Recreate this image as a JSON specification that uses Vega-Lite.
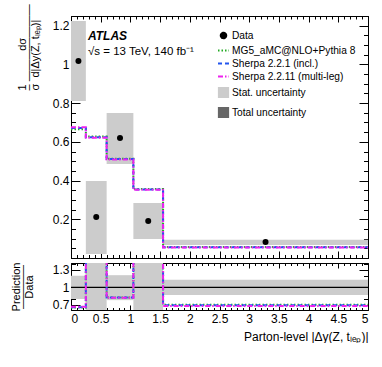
{
  "$schema": "https://vega.github.io/schema/vega-lite/v6.json",
  "padding": {"left": 9, "top": 3, "right": 0, "bottom": 0},
  "spacing": 2,
  "datasets": {
    "bins": [
      {"lo": 0, "hi": 0.25, "xc": 0.125, "data": 1.018, "slo": 0.811, "shi": 1.224, "rlo": 0.80, "rhi": 1.20},
      {"lo": 0.25, "hi": 0.6, "xc": 0.425, "data": 0.212, "slo": 0.021, "shi": 0.398, "rlo": 0.10, "rhi": 1.90},
      {"lo": 0.6, "hi": 1.05, "xc": 0.825, "data": 0.62, "slo": 0.486, "shi": 0.749, "rlo": 0.78, "rhi": 1.21},
      {"lo": 1.05, "hi": 1.55, "xc": 1.3, "data": 0.191, "slo": 0.098, "shi": 0.284, "rlo": 0.51, "rhi": 1.49},
      {"lo": 1.55, "hi": 5, "xc": 3.275, "data": 0.083, "slo": 0.067, "shi": 0.094, "rlo": 0.87, "rhi": 1.13}
    ],
    "unity": [{"ref": 1}],
    "pred": [
      {"x": 0, "v": 0.665, "series": "MG5_aMC@NLO+Pythia 8"},
      {"x": 0.25, "v": 0.627, "series": "MG5_aMC@NLO+Pythia 8"},
      {"x": 0.6, "v": 0.513, "series": "MG5_aMC@NLO+Pythia 8"},
      {"x": 1.05, "v": 0.357, "series": "MG5_aMC@NLO+Pythia 8"},
      {"x": 1.55, "v": 0.057, "series": "MG5_aMC@NLO+Pythia 8"},
      {"x": 5, "v": 0.057, "series": "MG5_aMC@NLO+Pythia 8"},
      {"x": 0, "v": 0.671, "series": "Sherpa 2.2.1 (incl.)"},
      {"x": 0.25, "v": 0.624, "series": "Sherpa 2.2.1 (incl.)"},
      {"x": 0.6, "v": 0.511, "series": "Sherpa 2.2.1 (incl.)"},
      {"x": 1.05, "v": 0.354, "series": "Sherpa 2.2.1 (incl.)"},
      {"x": 1.55, "v": 0.055, "series": "Sherpa 2.2.1 (incl.)"},
      {"x": 5, "v": 0.055, "series": "Sherpa 2.2.1 (incl.)"},
      {"x": 0, "v": 0.676, "series": "Sherpa 2.2.11 (multi-leg)"},
      {"x": 0.25, "v": 0.621, "series": "Sherpa 2.2.11 (multi-leg)"},
      {"x": 0.6, "v": 0.509, "series": "Sherpa 2.2.11 (multi-leg)"},
      {"x": 1.05, "v": 0.352, "series": "Sherpa 2.2.11 (multi-leg)"},
      {"x": 1.55, "v": 0.054, "series": "Sherpa 2.2.11 (multi-leg)"},
      {"x": 5, "v": 0.054, "series": "Sherpa 2.2.11 (multi-leg)"}
    ],
    "ratio": [
      {"x": 0, "r": 0.653, "series": "MG5_aMC@NLO+Pythia 8"},
      {"x": 0.25, "r": 2.96, "series": "MG5_aMC@NLO+Pythia 8"},
      {"x": 0.6, "r": 0.827, "series": "MG5_aMC@NLO+Pythia 8"},
      {"x": 1.05, "r": 1.87, "series": "MG5_aMC@NLO+Pythia 8"},
      {"x": 1.55, "r": 0.70, "series": "MG5_aMC@NLO+Pythia 8"},
      {"x": 5, "r": 0.70, "series": "MG5_aMC@NLO+Pythia 8"},
      {"x": 0, "r": 0.659, "series": "Sherpa 2.2.1 (incl.)"},
      {"x": 0.25, "r": 2.94, "series": "Sherpa 2.2.1 (incl.)"},
      {"x": 0.6, "r": 0.824, "series": "Sherpa 2.2.1 (incl.)"},
      {"x": 1.05, "r": 1.85, "series": "Sherpa 2.2.1 (incl.)"},
      {"x": 1.55, "r": 0.69, "series": "Sherpa 2.2.1 (incl.)"},
      {"x": 5, "r": 0.69, "series": "Sherpa 2.2.1 (incl.)"},
      {"x": 0, "r": 0.664, "series": "Sherpa 2.2.11 (multi-leg)"},
      {"x": 0.25, "r": 2.93, "series": "Sherpa 2.2.11 (multi-leg)"},
      {"x": 0.6, "r": 0.821, "series": "Sherpa 2.2.11 (multi-leg)"},
      {"x": 1.05, "r": 1.84, "series": "Sherpa 2.2.11 (multi-leg)"},
      {"x": 1.55, "r": 0.68, "series": "Sherpa 2.2.11 (multi-leg)"},
      {"x": 5, "r": 0.68, "series": "Sherpa 2.2.11 (multi-leg)"}
    ]
  },
  "vconcat": [
    {
      "width": 297,
      "height": 242,
      "title": {
        "text": "ATLAS",
        "subtitle": "√s = 13 TeV, 140 fb⁻¹",
        "anchor": "start",
        "frame": "group",
        "orient": "top",
        "offset": -55,
        "dx": 17,
        "font": "Liberation Sans",
        "fontSize": 12,
        "fontStyle": "italic",
        "fontWeight": "bold",
        "color": "black",
        "subtitleFont": "Liberation Sans",
        "subtitleFontSize": 11.5,
        "subtitleColor": "black",
        "subtitlePadding": 3
      },
      "resolve": {"axis": {"x": "independent", "y": "independent"}},
      "layer": [
        {
          "data": {"name": "bins"},
          "mark": {"type": "rect"},
          "encoding": {
            "x": {"field": "lo", "type": "quantitative", "scale": {"domain": [0, 5], "nice": false, "zero": false},
              "axis": {"orient": "bottom", "values": [0, 0.5, 1, 1.5, 2, 2.5, 3, 3.5, 4, 4.5, 5], "tickSize": -7, "labels": false, "title": null}},
            "x2": {"field": "hi"},
            "y": {"field": "slo", "type": "quantitative", "scale": {"domain": [0, 1.25], "nice": false, "zero": false},
              "axis": {"orient": "left", "values": [0.2, 0.4, 0.6, 0.8, 1, 1.2], "tickSize": -9, "labelPadding": 11, "format": "~g",
                "title": ["1\u00a0\u00a0\u00a0\u00a0\u00a0\u00a0\u00a0\u00a0\u00a0\u00a0\u00a0dσ", "–\u00a0———————", "σ\u00a0\u00a0d|Δy(Z,\u00a0tₗₑₚ)|"],
                "titleAlign": "left", "titleY": 74, "titleLineHeight": 6.5, "titleFontSize": 11, "titleFontWeight": "normal", "titlePadding": 12}},
            "y2": {"field": "shi"},
            "color": {"datum": "Stat. uncertainty", "type": "nominal", "title": null,
              "scale": {"domain": ["Data", "MG5_aMC@NLO+Pythia 8", "Sherpa 2.2.1 (incl.)", "Sherpa 2.2.11 (multi-leg)", "Stat. uncertainty", "Total uncertainty"],
                "range": ["black", "#22aa22", "#2255ee", "#ee22ee", "#cccccc", "#666666"]},
              "legend": {
                "orient": "none", "legendX": 146, "legendY": 13, "title": null, "padding": 0,
                "labelFont": "Liberation Sans", "labelFontSize": 10.2, "labelColor": "black", "labelOffset": 2, "labelLimit": 300,
                "rowPadding": 1, "symbolSize": 121, "symbolStrokeWidth": 2,
                "encode": {"symbols": {"update": {
                  "fill": {"signal": "datum.value === 'Data' ? 'black' : datum.value === 'Stat. uncertainty' ? '#cccccc' : datum.value === 'Total uncertainty' ? '#666666' : 'transparent'"},
                  "stroke": {"signal": "datum.value === 'MG5_aMC@NLO+Pythia 8' ? '#22aa22' : datum.value === 'Sherpa 2.2.1 (incl.)' ? '#2255ee' : datum.value === 'Sherpa 2.2.11 (multi-leg)' ? '#ee22ee' : 'transparent'"},
                  "shape": {"signal": "datum.value === 'Data' ? 'circle' : (datum.value === 'Stat. uncertainty' || datum.value === 'Total uncertainty') ? 'square' : 'stroke'"},
                  "size": {"signal": "datum.value === 'Data' ? 30 : (datum.value === 'Stat. uncertainty' || datum.value === 'Total uncertainty') ? 85 : 121"},
                  "strokeDash": {"signal": "datum.value === 'MG5_aMC@NLO+Pythia 8' ? [1.5, 2] : datum.value === 'Sherpa 2.2.1 (incl.)' ? [4, 3] : datum.value === 'Sherpa 2.2.11 (multi-leg)' ? [5, 2, 1.5, 2] : [1, 0]"},
                  "opacity": {"value": 1}
                }}}
              }
            }
          }
        },
        {
          "data": {"name": "pred"},
          "transform": [{"filter": "datum.series === 'MG5_aMC@NLO+Pythia 8'"}],
          "mark": {"type": "line", "interpolate": "step-after", "strokeWidth": 2, "clip": true, "strokeDash": [1.5, 2]},
          "encoding": {
            "x": {"field": "x", "type": "quantitative",
              "axis": {"orient": "bottom", "values": [0,0.1,0.2,0.3,0.4,0.5,0.6,0.7,0.8,0.9,1,1.1,1.2,1.3,1.4,1.5,1.6,1.7,1.8,1.9,2,2.1,2.2,2.3,2.4,2.5,2.6,2.7,2.8,2.9,3,3.1,3.2,3.3,3.4,3.5,3.6,3.7,3.8,3.9,4,4.1,4.2,4.3,4.4,4.5,4.6,4.7,4.8,4.9,5], "tickSize": -3.5, "labels": false, "title": null}},
            "y": {"field": "v", "type": "quantitative",
              "axis": {"orient": "left", "values": [0,0.05,0.1,0.15,0.2,0.25,0.3,0.35,0.4,0.45,0.5,0.55,0.6,0.65,0.7,0.75,0.8,0.85,0.9,0.95,1,1.05,1.1,1.15,1.2,1.25], "tickSize": -4.5, "labels": false, "title": null}},
            "color": {"field": "series", "type": "nominal", "title": null}
          }
        },
        {
          "data": {"name": "pred"},
          "transform": [{"filter": "datum.series === 'Sherpa 2.2.1 (incl.)'"}],
          "mark": {"type": "line", "interpolate": "step-after", "strokeWidth": 2, "clip": true, "strokeDash": [4, 3]},
          "encoding": {
            "x": {"field": "x", "type": "quantitative",
              "axis": {"orient": "top", "values": [0, 0.5, 1, 1.5, 2, 2.5, 3, 3.5, 4, 4.5, 5], "tickSize": -6, "labels": false, "title": null}},
            "y": {"field": "v", "type": "quantitative",
              "axis": {"orient": "right", "values": [0.2, 0.4, 0.6, 0.8, 1, 1.2], "tickSize": -9, "labels": false, "title": null}},
            "color": {"field": "series", "type": "nominal", "title": null}
          }
        },
        {
          "data": {"name": "pred"},
          "transform": [{"filter": "datum.series === 'Sherpa 2.2.11 (multi-leg)'"}],
          "mark": {"type": "line", "interpolate": "step-after", "strokeWidth": 2, "clip": true, "strokeDash": [5, 2, 1.5, 2]},
          "encoding": {
            "x": {"field": "x", "type": "quantitative",
              "axis": {"orient": "top", "values": [0,0.1,0.2,0.3,0.4,0.5,0.6,0.7,0.8,0.9,1,1.1,1.2,1.3,1.4,1.5,1.6,1.7,1.8,1.9,2,2.1,2.2,2.3,2.4,2.5,2.6,2.7,2.8,2.9,3,3.1,3.2,3.3,3.4,3.5,3.6,3.7,3.8,3.9,4,4.1,4.2,4.3,4.4,4.5,4.6,4.7,4.8,4.9,5], "tickSize": -3, "labels": false, "title": null}},
            "y": {"field": "v", "type": "quantitative",
              "axis": {"orient": "right", "values": [0,0.05,0.1,0.15,0.2,0.25,0.3,0.35,0.4,0.45,0.5,0.55,0.6,0.65,0.7,0.75,0.8,0.85,0.9,0.95,1,1.05,1.1,1.15,1.2,1.25], "tickSize": -4.5, "labels": false, "title": null}},
            "color": {"field": "series", "type": "nominal", "title": null}
          }
        },
        {
          "data": {"name": "bins"},
          "mark": {"type": "point", "filled": true, "opacity": 1, "size": 36, "shape": "circle"},
          "encoding": {
            "x": {"field": "xc", "type": "quantitative", "axis": null},
            "y": {"field": "data", "type": "quantitative", "axis": null},
            "color": {"datum": "Data", "type": "nominal", "title": null}
          }
        }
      ]
    },
    {
      "width": 297,
      "height": 47,
      "resolve": {"axis": {"x": "independent", "y": "independent"}},
      "layer": [
        {
          "data": {"name": "bins"},
          "mark": {"type": "rect", "color": "#cccccc", "clip": true},
          "encoding": {
            "x": {"field": "lo", "type": "quantitative", "scale": {"domain": [0, 5], "nice": false, "zero": false},
              "axis": {"orient": "bottom", "values": [0, 0.5, 1, 1.5, 2, 2.5, 3, 3.5, 4, 4.5, 5], "tickSize": -5, "labelPadding": 8, "format": "~g",
                "title": "Parton-level |Δy(Z, tₗₑₚ)|", "titleAnchor": "end", "titleFontSize": 12, "titleFontWeight": "normal", "titlePadding": 7}},
            "x2": {"field": "hi"},
            "y": {"field": "rlo", "type": "quantitative", "scale": {"domain": [0.61, 1.42], "nice": false, "zero": false},
              "axis": {"orient": "left", "values": [0.7, 1, 1.3], "tickSize": -9, "labelPadding": 11, "format": "~g",
                "title": ["Prediction", "————", "Data"], "titleLineHeight": 6.5, "titleFontSize": 11, "titleFontWeight": "normal", "titlePadding": 18}},
            "y2": {"field": "rhi"}
          }
        },
        {
          "data": {"name": "unity"},
          "mark": {"type": "rule", "color": "black", "strokeWidth": 1.3},
          "encoding": {"y": {"field": "ref", "type": "quantitative", "axis": null}}
        },
        {
          "data": {"name": "ratio"},
          "transform": [{"filter": "datum.series === 'MG5_aMC@NLO+Pythia 8'"}],
          "mark": {"type": "line", "interpolate": "step-after", "strokeWidth": 2, "clip": true, "color": "#22aa22", "strokeDash": [1.5, 2]},
          "encoding": {
            "x": {"field": "x", "type": "quantitative",
              "axis": {"orient": "bottom", "values": [0,0.1,0.2,0.3,0.4,0.5,0.6,0.7,0.8,0.9,1,1.1,1.2,1.3,1.4,1.5,1.6,1.7,1.8,1.9,2,2.1,2.2,2.3,2.4,2.5,2.6,2.7,2.8,2.9,3,3.1,3.2,3.3,3.4,3.5,3.6,3.7,3.8,3.9,4,4.1,4.2,4.3,4.4,4.5,4.6,4.7,4.8,4.9,5], "tickSize": -2.5, "labels": false, "title": null}},
            "y": {"field": "r", "type": "quantitative",
              "axis": {"orient": "left", "values": [0.7, 0.8, 0.9, 1, 1.1, 1.2, 1.3, 1.4], "tickSize": -4.5, "labels": false, "title": null}}
          }
        },
        {
          "data": {"name": "ratio"},
          "transform": [{"filter": "datum.series === 'Sherpa 2.2.1 (incl.)'"}],
          "mark": {"type": "line", "interpolate": "step-after", "strokeWidth": 2, "clip": true, "color": "#2255ee", "strokeDash": [4, 3]},
          "encoding": {
            "x": {"field": "x", "type": "quantitative",
              "axis": {"orient": "top", "values": [0, 0.5, 1, 1.5, 2, 2.5, 3, 3.5, 4, 4.5, 5], "tickSize": -5, "labels": false, "title": null}},
            "y": {"field": "r", "type": "quantitative",
              "axis": {"orient": "right", "values": [0.7, 1, 1.3], "tickSize": -9, "labels": false, "title": null}}
          }
        },
        {
          "data": {"name": "ratio"},
          "transform": [{"filter": "datum.series === 'Sherpa 2.2.11 (multi-leg)'"}],
          "mark": {"type": "line", "interpolate": "step-after", "strokeWidth": 2, "clip": true, "color": "#ee22ee", "strokeDash": [5, 2, 1.5, 2]},
          "encoding": {
            "x": {"field": "x", "type": "quantitative",
              "axis": {"orient": "top", "values": [0,0.1,0.2,0.3,0.4,0.5,0.6,0.7,0.8,0.9,1,1.1,1.2,1.3,1.4,1.5,1.6,1.7,1.8,1.9,2,2.1,2.2,2.3,2.4,2.5,2.6,2.7,2.8,2.9,3,3.1,3.2,3.3,3.4,3.5,3.6,3.7,3.8,3.9,4,4.1,4.2,4.3,4.4,4.5,4.6,4.7,4.8,4.9,5], "tickSize": -2.5, "labels": false, "title": null}},
            "y": {"field": "r", "type": "quantitative",
              "axis": {"orient": "right", "values": [0.7, 0.8, 0.9, 1, 1.1, 1.2, 1.3, 1.4], "tickSize": -4.5, "labels": false, "title": null}}
          }
        }
      ]
    }
  ],
  "config": {
    "font": "Liberation Sans",
    "background": "white",
    "view": {"stroke": "black", "strokeWidth": 1},
    "axis": {"grid": false, "domain": false, "tickColor": "black", "tickWidth": 1, "labelColor": "black", "labelFont": "Liberation Sans", "labelFontSize": 12, "titleFont": "Liberation Sans", "titleColor": "black"}
  }
}
